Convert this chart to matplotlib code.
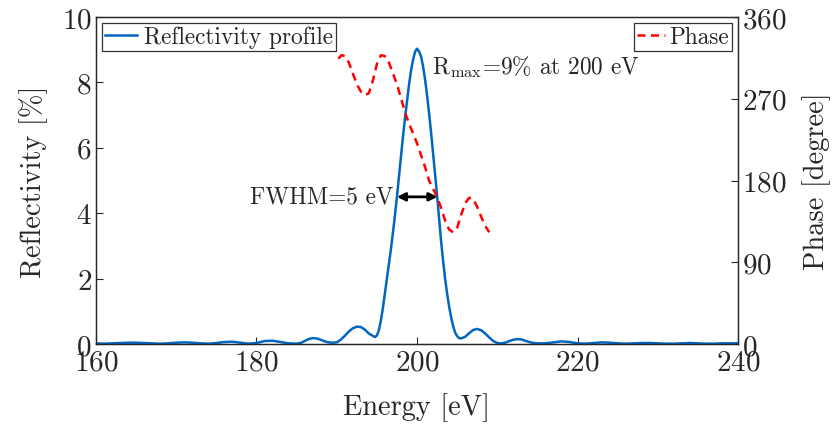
import matplotlib
matplotlib.use("Agg")
import matplotlib.pyplot as plt

plt.rcParams['font.family'] = ['cmr10', 'DejaVu Serif']
plt.rcParams['mathtext.fontset'] = 'cm'
plt.rcParams['axes.formatter.use_mathtext'] = True
plt.rcParams['axes.unicode_minus'] = False

# ---- data ----
energy = [160, 161, 162, 163, 164, 165, 166, 167, 168, 169, 170, 171, 172, 173, 174,
          175, 176, 177, 178, 179, 180, 181, 182, 183, 184, 185,
          185.5, 186.0, 186.5, 187.0, 187.5, 188.0, 188.5, 189.0, 189.5, 190.0,
          190.5, 191.0, 191.5, 192.0, 192.5, 193.0, 193.5, 194.0,
          194.5, 194.75, 195.0, 195.25, 195.5, 195.75, 196.0, 196.25, 196.5, 196.75,
          197.0, 197.25, 197.5, 197.75, 198.0, 198.25, 198.5, 198.75, 199.0, 199.25,
          199.5, 199.75, 200.0, 200.25, 200.5, 200.75, 201.0, 201.25, 201.5, 201.75,
          202.0, 202.25, 202.5, 202.75, 203.0, 203.25, 203.5, 203.75, 204.0, 204.25,
          204.5, 204.75, 205.0, 205.25, 205.5,
          206.0, 206.5, 207.0, 207.5, 208.0, 208.5, 209.0, 209.5, 210.0,
          210.5, 211.0, 211.5, 212.0, 212.5, 213.0, 213.5, 214.0, 214.5, 215.0,
          216, 217, 218, 219, 220, 221, 222, 223, 224, 225, 226, 227, 228, 229,
          230, 231, 232, 233, 234, 235, 236, 237, 238, 239, 240]
reflectivity = [0.02, 0.01, 0.02, 0.03, 0.04, 0.04, 0.03, 0.02, 0.01, 0.02, 0.04, 0.05, 0.04, 0.02, 0.01,
                0.03, 0.06, 0.07, 0.04, 0.01, 0.03, 0.09, 0.10, 0.06, 0.02, 0.01,
                0.03, 0.09, 0.15, 0.18, 0.17, 0.13, 0.08, 0.05, 0.04, 0.05,
                0.13, 0.25, 0.38, 0.48, 0.53, 0.52, 0.44, 0.32,
                0.25, 0.21, 0.26, 0.42, 0.72, 1.10, 1.55, 1.98, 2.45, 2.90,
                3.40, 3.93, 4.50, 5.12, 5.72, 6.33, 6.90, 7.42, 7.92, 8.35,
                8.68, 8.93, 9.03, 8.95, 8.80, 8.50, 8.10, 7.62, 7.07, 6.48,
                5.85, 5.20, 4.55, 3.85, 3.15, 2.55, 2.00, 1.55, 1.15, 0.82,
                0.55, 0.35, 0.24, 0.18, 0.17,
                0.22, 0.33, 0.43, 0.46, 0.42, 0.32, 0.20, 0.09, 0.03,
                0.02, 0.04, 0.09, 0.13, 0.15, 0.14, 0.10, 0.06, 0.03, 0.02,
                0.02, 0.05, 0.08, 0.06, 0.02, 0.01, 0.03, 0.05, 0.04, 0.02, 0.01, 0.02, 0.03, 0.03,
                0.02, 0.01, 0.01, 0.02, 0.03, 0.02, 0.01, 0.01, 0.02, 0.02, 0.02]

phase_energy = [190.2, 190.6, 191.0, 191.5, 192.0, 192.5, 193.0, 193.5, 194.0, 194.5,
                195.0, 195.5, 196.0, 196.5, 197.0, 197.5, 198.0, 198.5, 199.0, 199.5,
                200.0, 200.5, 201.0, 201.5, 202.0, 202.5, 203.0, 203.5, 204.0, 204.5,
                205.0, 205.5, 206.0, 206.5, 207.0, 207.5, 208.0, 208.5, 209.0]
phase_deg = [314, 318, 317, 310, 298, 286, 278, 274, 276, 290,
             308, 318, 317, 310, 298, 286, 271, 255, 243, 232,
             221, 208, 195, 180, 171, 162, 150, 136, 126, 123,
             128, 142, 155, 161, 160, 151, 140, 130, 123]

x_ticks = [160, 180, 200, 220, 240]
left_ticks = [0, 2, 4, 6, 8, 10]
right_ticks = [0, 90, 180, 270, 360]

fwhm_left, fwhm_right, fwhm_level = 197.5, 202.55, 4.5

txt = '#262626'
blue = '#0066C2'

fig = plt.figure(figsize=(8.36, 4.35), dpi=100)
ax = fig.add_axes([0.1148, 0.2069, 0.7680, 0.7517])
ax2 = ax.twinx()

l1, = ax.plot(energy, reflectivity, color=blue, lw=1.8, label='Reflectivity profile')
l2, = ax2.plot(phase_energy, phase_deg, color='#FF0000', lw=1.8, ls=(0, (3.2, 2.2)), label='Phase')

ax.set_xlim(160, 240)
ax.set_ylim(0, 10)
ax2.set_ylim(0, 360)
ax.set_xticks(x_ticks)
ax.set_yticks(left_ticks)
ax2.set_yticks(right_ticks)

fs = 21
for a in (ax, ax2):
    a.tick_params(direction='in', length=5, width=0.8, labelsize=fs, colors=txt, pad=3)
    for s in a.spines.values():
        s.set_color(txt)
        s.set_linewidth(0.9)
ax.tick_params(axis='x', pad=4)

ax.set_xlabel('Energy [eV]', fontsize=20.5, color=txt, labelpad=12)
ax.set_ylabel('Reflectivity [%]', fontsize=20.5, color=txt, labelpad=10)
ax2.set_ylabel('Phase [degree]', fontsize=20.5, color=txt, labelpad=11)

ax.annotate('', xy=(fwhm_left, fwhm_level), xytext=(fwhm_right, fwhm_level),
            arrowprops=dict(arrowstyle='<|-|>', color='black', lw=2, mutation_scale=12,
                            shrinkA=0, shrinkB=0))
ax.text(fwhm_left - 0.5, fwhm_level, 'FWHM=5 eV', fontsize=16.8, color=txt,
        ha='right', va='center')
ax.text(201.9, 8.5, r'$\mathrm{R}_{\mathrm{max}}$' + '=9% at 200 eV', fontsize=16.8,
        color=txt, ha='left', va='center')

leg1 = ax.legend(handles=[l1], loc='upper left', fontsize=16.8, frameon=True,
                 fancybox=False, edgecolor='black', handlelength=1.4, handletextpad=0.3,
                 borderpad=0.12, borderaxespad=0.25)
leg1.get_frame().set_linewidth(0.9)
for t in leg1.get_texts():
    t.set_color(txt)
leg2 = ax2.legend(handles=[l2], loc='upper right', fontsize=16.8, frameon=True,
                  fancybox=False, edgecolor='black', handlelength=1.2, handletextpad=0.2,
                  borderpad=0.12, borderaxespad=0.25)
leg2.get_frame().set_linewidth(0.9)
for t in leg2.get_texts():
    t.set_color(txt)

fig.savefig('out.png', dpi=100)
